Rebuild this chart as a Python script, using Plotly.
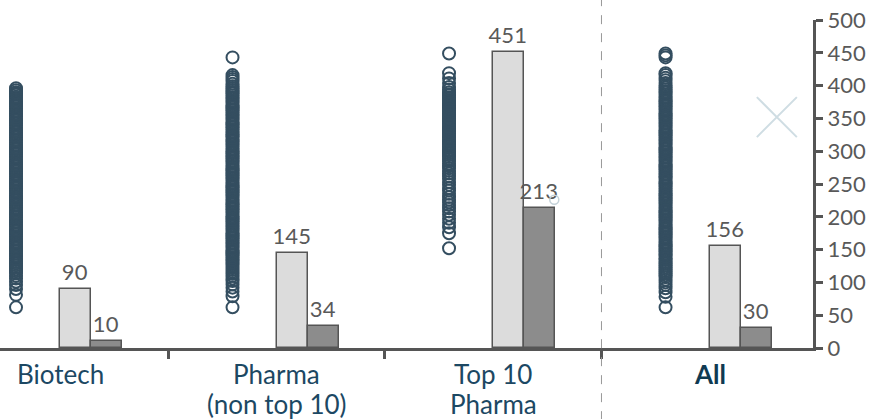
import plotly.graph_objects as go

categories = ["Biotech", "Pharma|(non top 10)", "Top 10|Pharma", "All"]
median_values = [90, 145, 451, 156]
low_values = [10, 34, 213, 30]

biotech_pts = [62, 81, 90, 96, 101, 106, 110, 114, 117, 120, 123, 126, 129, 131, 134, 136, 139, 141,
               144, 147, 149, 152, 154, 157, 160, 162, 165, 167, 170, 173, 175, 178, 180, 183, 186, 188,
               191, 193, 196, 199, 201, 204, 206, 209, 212, 214, 217, 219, 222, 225, 227, 230, 232, 235,
               238, 240, 243, 245, 248, 251, 253, 256, 258, 261, 264, 266, 269, 271, 274, 277, 279, 282,
               284, 287, 290, 292, 295, 297, 300, 303, 305, 308, 310, 313, 316, 318, 321, 323, 326, 329,
               331, 334, 336, 339, 342, 344, 347, 349, 352, 355, 357, 360, 362, 365, 368, 370, 373, 375,
               378, 381, 383, 386, 388, 390, 393, 396]
pharma_pts = [62, 79, 86, 92, 97, 102, 106, 110, 113, 116, 119, 122, 125, 128, 130, 133, 135, 138, 141,
              143, 146, 148, 151, 154, 156, 159, 161, 164, 167, 169, 172, 174, 177, 180, 182, 185, 187,
              190, 193, 195, 198, 200, 203, 206, 208, 211, 213, 216, 219, 221, 224, 226, 229, 232, 234,
              237, 239, 242, 245, 247, 250, 252, 255, 258, 260, 263, 265, 268, 271, 273, 276, 278, 281,
              284, 286, 289, 291, 294, 297, 299, 302, 304, 307, 310, 312, 315, 317, 320, 323, 325, 328,
              330, 333, 336, 338, 341, 343, 346, 349, 351, 354, 356, 359, 362, 364, 367, 369, 372, 375,
              377, 380, 382, 385, 388, 390, 393, 396, 399, 403, 407, 410, 413, 416, 443]
top10_pts = [152, 175, 184, 191, 197, 203, 208, 213, 218, 222, 226, 230, 235, 240, 244, 249, 253, 258,
             262, 266, 270, 274, 278, 281, 285, 288, 291, 294, 297, 300, 302, 305, 307, 310, 312, 315,
             317, 320, 322, 325, 327, 330, 332, 335, 337, 340, 342, 345, 347, 350, 352, 355, 357, 360,
             362, 365, 367, 370, 372, 375, 377, 380, 382, 385, 387, 390, 394, 398, 404, 411, 419, 449]
all_pts = [62, 78, 85, 91, 96, 100, 104, 108, 111, 114, 117, 120, 123, 126, 129, 131, 134, 136, 139,
           142, 144, 147, 149, 152, 155, 157, 160, 162, 165, 168, 170, 173, 175, 178, 181, 183, 186, 188,
           191, 194, 196, 199, 201, 204, 207, 209, 212, 214, 217, 220, 222, 225, 227, 230, 233, 235, 238,
           240, 243, 246, 248, 251, 253, 256, 259, 261, 264, 266, 269, 272, 274, 277, 279, 282, 285, 287,
           290, 292, 295, 298, 300, 303, 305, 308, 311, 313, 316, 318, 321, 324, 326, 329, 331, 334, 337,
           339, 342, 344, 347, 350, 352, 355, 357, 360, 363, 365, 368, 370, 373, 376, 378, 381, 383, 386,
           389, 391, 394, 397, 400, 404, 408, 412, 416, 419, 443, 446, 449]
group_points = [biotech_pts, pharma_pts, top10_pts, all_pts]

marker_x_val = 3.31
marker_y_val = 352
stray_x_val = 2.282
stray_y_val = 226

DARK = "#344e60"
GREY_TXT = "#595959"
LABEL_COL = "#1c4863"
FONT = "Lato"

fig = go.Figure()

for i, pts in enumerate(group_points):
    fig.add_trace(go.Scatter(
        x=[i - 0.204] * len(pts), y=pts, mode="markers",
        marker=dict(symbol="circle-open", size=12, color=DARK, line=dict(width=2, color=DARK)),
        showlegend=False, hoverinfo="y", cliponaxis=False))

bar_w = 0.143
fig.add_trace(go.Bar(
    x=list(range(len(categories))), y=median_values, offset=0, width=bar_w,
    marker=dict(color="#dcdcdc", line=dict(color="#555555", width=1.5)),
    text=[str(v) for v in median_values], textposition="outside", constraintext="none",
    textfont=dict(size=22, color=GREY_TXT, family=FONT), cliponaxis=False, showlegend=False))
fig.add_trace(go.Bar(
    x=list(range(len(categories))), y=low_values, offset=bar_w, width=bar_w,
    marker=dict(color="#8c8c8c", line=dict(color="#555555", width=1.5)),
    text=[str(v) for v in low_values], textposition="outside", constraintext="none",
    textfont=dict(size=22, color=GREY_TXT, family=FONT), cliponaxis=False, showlegend=False))

fig.add_trace(go.Scatter(
    x=[marker_x_val], y=[marker_y_val], mode="markers",
    marker=dict(symbol="x-thin-open", size=40, color="#cfdde3", line=dict(width=2, color="#cfdde3")),
    showlegend=False, hoverinfo="skip"))
fig.add_trace(go.Scatter(
    x=[stray_x_val], y=[stray_y_val], mode="markers",
    marker=dict(symbol="circle-open", size=9, color="#c4d2d9", line=dict(width=1.5, color="#c4d2d9")),
    showlegend=False, hoverinfo="skip"))

for i, c in enumerate(categories):
    for j, line in enumerate(c.split("|")):
        txt = f"<b>{line}</b>" if i == 3 else line
        fig.add_annotation(x=i, y=0, xref="x", yref="paper", text=txt, showarrow=False,
                           yanchor="top", yshift=-8 - 30 * j,
                           font=dict(size=26, color=LABEL_COL if i < 3 else "#0f3a52", family=FONT))

fig.add_shape(type="line", x0=2.5, x1=2.5, xref="x", y0=-0.22, y1=1.07, yref="paper",
              line=dict(color="#999999", width=1, dash="dash"))

fig.update_layout(
    width=884, height=419, margin=dict(l=0, r=71, t=20, b=71),
    plot_bgcolor="white", paper_bgcolor="white", barmode="overlay", bargap=0,
    font=dict(family=FONT, size=21, color=GREY_TXT),
    xaxis=dict(range=[-0.278, 3.477], showgrid=False, zeroline=False, showline=True, automargin=False,
               linecolor="#555555", linewidth=3, tickmode="array", tickvals=[0.5, 1.5, 2.5],
               ticks="outside", ticklen=8, tickwidth=3, tickcolor="#555555", showticklabels=False),
    yaxis=dict(side="right", range=[0, 500], dtick=50, showgrid=False, zeroline=False, automargin=False,
               showline=True, linecolor="#555555", linewidth=3, ticks="outside", ticklen=7,
               tickwidth=3, tickcolor="#555555", tickfont=dict(size=22, color=GREY_TXT, family=FONT)),
)

fig.write_html("out.html", config={"displayModeBar": False},
               post_script="document.body.style.margin='0';")
